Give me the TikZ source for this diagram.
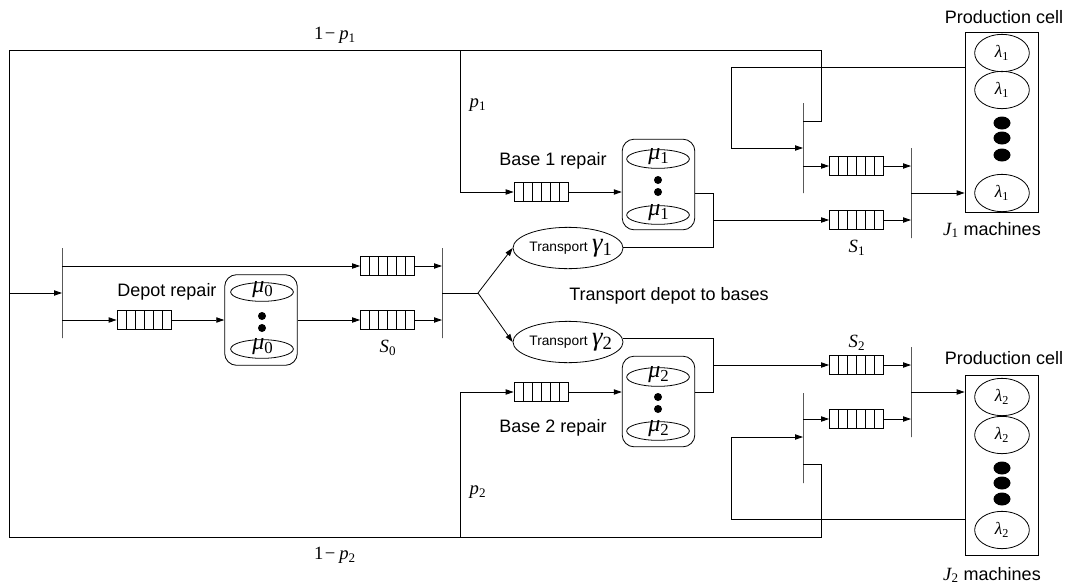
\documentclass[tikz,border=0pt]{standalone}
\usepackage{fontspec}
\setmainfont{Liberation Sans}
\newfontfamily\tms{Liberation Serif}
\newcommand{\tv}[2]{{\tms\itshape #1}\textsubscript{\tms #2}}
\usetikzlibrary{arrows.meta,shapes.geometric,calc}
\begin{document}
\begin{tikzpicture}[x=0.75pt,y=-0.75pt, line width=0.6pt,
 arr/.style={-{Triangle[length=6pt,width=4pt]}},
 bar/.style={draw, inner sep=0pt, minimum width=0pt, minimum height=67.5pt},
 queue/.style={draw, minimum width=40.5pt, minimum height=14.25pt, inner sep=0pt,
   path picture={\foreach \i in {1,...,5}{\draw ($(path picture bounding box.south west)!\i/6!(path picture bounding box.south east)$) -- ($(path picture bounding box.north west)!\i/6!(path picture bounding box.north east)$);}}},
 server/.style={draw, rounded corners=9pt, minimum width=54.5pt, minimum height=68pt, inner sep=0pt},
 sell/.style={draw, ellipse, minimum width=47pt, minimum height=14pt, inner sep=0pt},
 tell/.style={draw, ellipse, minimum width=82.5pt, minimum height=31pt, inner sep=0pt},
 pcell/.style={draw, minimum width=54.75pt, minimum height=135pt, inner sep=0pt},
 mell/.style={draw, ellipse, minimum width=41pt, minimum height=28pt, inner sep=0pt, font=\fontsize{13}{14}\selectfont},
 bdot/.style={fill, ellipse, minimum width=12.75pt, minimum height=9.75pt, inner sep=0pt},
 sdot/.style={fill, circle, minimum size=6pt, inner sep=0pt},
 lbl/.style={font=\fontsize{13.5}{15}\selectfont, inner sep=0pt},
 mlbl/.style={font=\fontsize{14}{15}\selectfont, inner sep=0pt},
 mu/.style={font=\fontsize{18}{19}\selectfont, inner sep=0pt},
]
\useasboundingbox (0,0) rectangle (1072,586);

% bars
\node[bar] (bL) at (62,293) {};
\node[bar] (b0) at (442,293) {};
\node[bar] (b1a) at (803,148) {};
\node[bar] (b1b) at (911,193) {};
\node[bar] (b2a) at (803,438) {};
\node[bar] (b2b) at (911,392) {};

% queues
\node[queue] (qd) at (144,320) {};
\node[queue] (q0a) at (387.5,266) {};
\node[queue] (q0b) at (387.5,320) {};
\node[queue] (q1) at (541,192) {};
\node[queue] (q2) at (541,392) {};
\node[queue] (q1a) at (856.5,166) {};
\node[queue] (q1b) at (856.5,220) {};
\node[queue] (q2a) at (856.5,365) {};
\node[queue] (q2b) at (856.5,419) {};

% servers
\node[server] (d0) at (261,320) {};
\node[sell] (d0e1) at (262,292) {};
\node[sell] (d0e2) at (262,349) {};
\node[mu] (d0m1) at (263,290) {\tv{μ}{0}};
\node[mu] (d0m2) at (263,347) {\tv{μ}{0}};
\node[sdot] (d0d1) at (262,316) {};
\node[sdot] (d0d2) at (262,328) {};

\node[server] (s1) at (658.5,184.5) {};
\node[sell] (s1e1) at (658,159) {};
\node[sell] (s1e2) at (658,215) {};
\node[mu] (s1m1) at (659,157) {\tv{μ}{1}};
\node[mu] (s1m2) at (659,213) {\tv{μ}{1}};
\node[sdot] (s1d1) at (658,180) {};
\node[sdot] (s1d2) at (658,192) {};

\node[server] (s2) at (658.5,401.5) {};
\node[sell] (s2e1) at (658,377) {};
\node[sell] (s2e2) at (658,431) {};
\node[mu] (s2m1) at (659,375) {\tv{μ}{2}};
\node[mu] (s2m2) at (659,429) {\tv{μ}{2}};
\node[sdot] (s2d1) at (658,397) {};
\node[sdot] (s2d2) at (658,409) {};

% transport
\node[tell] (t1) at (568,248) {};
\node[inner sep=0pt] (t1txt) at (571,248) {{\fontsize{10.3}{12}\selectfont Transport}\,\,{\fontsize{20}{20}\selectfont\tv{γ}{1}}};
\node[tell] (t2) at (568,342) {};
\node[inner sep=0pt] (t2txt) at (571,342) {{\fontsize{10.3}{12}\selectfont Transport}\,\,{\fontsize{20}{20}\selectfont\tv{γ}{2}}};

% production cells
\node[pcell] (pc1) at (1001.5,122) {};
\node[mell] (m11) at (1002,53) {\tv{λ}{1}};
\node[mell] (m12) at (1002,90) {\tv{λ}{1}};
\node[mell] (m13) at (1002,193) {\tv{λ}{1}};
\node[bdot] (k11) at (1002,123) {};
\node[bdot] (k12) at (1002,138) {};
\node[bdot] (k13) at (1002,155) {};

\node[pcell] (pc2) at (1001.5,465) {};
\node[mell] (m21) at (1002,397) {\tv{λ}{2}};
\node[mell] (m22) at (1002,435) {\tv{λ}{2}};
\node[mell] (m23) at (1002,530) {\tv{λ}{2}};
\node[bdot] (k21) at (1002,468) {};
\node[bdot] (k22) at (1002,483) {};
\node[bdot] (k23) at (1002,499) {};

% labels
\node[mlbl] (l1p1) at (335,35) {{\tms 1\kern1pt−\kern3pt}\tv{p}{1}};
\node[mlbl] (l1p2) at (335,555) {{\tms 1\kern1pt−\kern3pt}\tv{p}{2}};
\node[mlbl] (lp1) at (478,105) {\tv{p}{1}};
\node[mlbl] (lp2) at (478,492) {\tv{p}{2}};
\node[lbl] (ldep) at (167,292) {Depot repair};
\node[mlbl] (lS0) at (388,348) {\tv{S}{0}};
\node[lbl] (lb1) at (553,161) {Base 1 repair};
\node[lbl] (lb2) at (553,428) {Base 2 repair};
\node[lbl] (ltr) at (669,296) {Transport depot to bases};
\node[mlbl] (lS1) at (857,248) {\tv{S}{1}};
\node[mlbl] (lS2) at (857,343) {\tv{S}{2}};
\node[lbl] (lpc1) at (1004,17) {Production cell};
\node[lbl] (lpc2) at (1004,358) {Production cell};
\node[lbl] (lj1) at (992,230) {{\fontsize{14}{15}\selectfont\tv{J}{1}} machines};
\node[lbl] (lj2) at (992,575) {{\fontsize{14}{15}\selectfont\tv{J}{2}} machines};

% coordinates
\coordinate (cTL) at (9,50);
\coordinate (cBL) at (9,537);
\coordinate (cTR) at (821,50);
\coordinate (cBR) at (821,537);
\coordinate (c1) at (460,50);
\coordinate (c2) at (460,537);
\coordinate (cin) at (9,293);
\coordinate (br) at (478,293);
\coordinate (r1) at (803,121);
\coordinate (r2) at (803,464);
\coordinate (j1t) at (713,193);
\coordinate (j1b) at (713,247);
\coordinate (j1) at (713,220);
\coordinate (j2t) at (713,338);
\coordinate (j2b) at (713,392);
\coordinate (j2) at (713,365);
\coordinate (f1s) at (965,67);
\coordinate (f1c) at (731,148);
\coordinate (f2s) at (965,519);
\coordinate (f2c) at (731,437);

% outer loop
\draw (r1) -| (cTR) -- (cTL) -- (cBL) -- (cBR) |- (r2);
\draw[arr] (cin) -- (bL.center |- cin);

% depot
\draw[arr] (bL.center |- q0a) -- (q0a.west);
\draw[arr] (bL.center |- qd) -- (qd.west);
\draw[arr] (qd.east) -- (d0.west |- qd);
\draw[arr] (d0.east |- q0b) -- (q0b.west);
\draw[arr] (q0a.east) -- (b0.center |- q0a);
\draw[arr] (q0b.east) -- (b0.center |- q0b);
\draw (b0.center) -- (br);
\draw[arr] (br) -- (t1.west);
\draw[arr] (br) -- (t2.west);

% base 1
\draw[arr] (c1) |- (q1.west);
\draw[arr] (q1.east) -- (s1.west |- q1);
\draw (s1.east |- j1t) -- (j1t) -- (j1b) -- (t1.east |- j1b);
\draw[arr] (j1) -- (q1b.west);
\draw[arr] (q1b.east) -- (b1b.center |- q1b);
\draw[arr] (q1a.east) -- (b1b.center |- q1a);
\draw[arr] (b1a.center |- q1a) -- (q1a.west);
\draw[arr] (b1b.center) -- (pc1.west |- b1b);
\draw[arr] (f1s) -| (f1c) -- (b1a.center);

% base 2
\draw[arr] (c2) |- (q2.west);
\draw[arr] (q2.east) -- (s2.west |- q2);
\draw (t2.east |- j2t) -- (j2t) -- (j2b) -- (s2.east |- j2b);
\draw[arr] (j2) -- (q2a.west);
\draw[arr] (q2a.east) -- (b2b.center |- q2a);
\draw[arr] (q2b.east) -- (b2b.center |- q2b);
\draw[arr] (b2a.center |- q2b) -- (q2b.west);
\draw[arr] (b2b.center) -- (pc2.west |- b2b);
\draw[arr] (f2s) -| (f2c) -- (b2a.center |- f2c);
\end{tikzpicture}
\end{document}
